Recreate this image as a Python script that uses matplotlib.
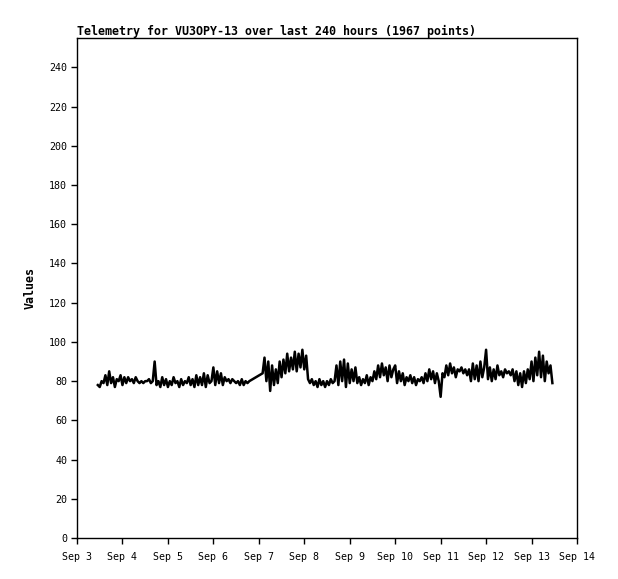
import numpy as np
import matplotlib
matplotlib.use("Agg")
import matplotlib.pyplot as plt
import matplotlib.dates as mdates

# telemetry readings, hourly (hours after Sep 3 00:00)
hours_a = np.arange(11, 92)
values_a = [78, 77, 80, 79, 83, 78, 85, 79, 82, 77, 81,
            80, 83, 78, 82, 79, 82, 80, 81, 79, 82, 80, 79, 80,
            79, 80, 80, 81, 79, 80, 90, 78,
            80, 77, 82, 78, 81, 77, 80, 78, 82, 79, 80, 77, 81, 78,
            80, 79, 82, 78, 81, 77, 83, 78, 82, 78, 84, 77, 83, 79,
            80, 87, 78, 85, 79, 84, 78, 82, 80, 81,
            79, 81, 80, 79, 80, 78, 81, 78, 80, 79, 80]

hours_b = np.arange(98, 252)
values_b = [84, 92, 80, 90, 75, 88, 78, 86, 79, 90, 82,
            91, 84, 94, 85, 92, 86, 95, 85, 94, 87, 96, 86, 93, 81,
            79, 81, 78, 80, 77, 81, 78, 80, 77, 80, 78, 81, 79, 80,
            88, 78, 90, 80, 91, 77, 89, 79, 86,
            80, 87, 79, 82, 78, 81, 79, 83, 78, 82, 80,
            85, 81, 88, 82, 89, 83, 87, 80, 88, 82, 86,
            88, 79, 85, 80, 84, 78, 82, 80, 83,
            79, 82, 78, 81, 80, 82, 79,
            84, 80, 86, 81, 85, 79, 84,
            80, 72, 84,
            82, 88, 83, 89, 84, 87, 82, 86,
            85, 87, 84, 86, 83, 86,
            80, 89, 81, 88, 80, 90, 82, 87, 96, 81,
            87, 80, 86, 81, 88, 83, 85, 82, 86, 84, 85,
            83, 86, 80, 85, 78, 84, 77, 85, 79, 86,
            81, 90, 80, 92, 83, 95, 82, 93, 80, 90, 84, 88, 79]

hours = np.concatenate([hours_a, hours_b])
values = np.concatenate([values_a, values_b])
start = np.datetime64("2023-09-03T00:00")
times = start + hours.astype("timedelta64[h]")

title = "Telemetry for VU3OPY-13 over last 240 hours (1967 points)"

fig = plt.figure(figsize=(6.18, 5.79), dpi=100)
ax = fig.add_axes([77/618, 41/579, 500/618, 500/579])

ax.plot(times, values, color="black", lw=1.8)

ax.set_xlim(np.datetime64("2023-09-03T00:00"), np.datetime64("2023-09-14T00:00"))
ax.set_ylim(0, 255)
ax.set_yticks(np.arange(0, 241, 20))
ax.xaxis.set_major_locator(mdates.DayLocator())
ax.xaxis.set_major_formatter(mdates.DateFormatter("%b %-d"))

for s in ["top", "right", "left", "bottom"]:
    ax.spines[s].set_linewidth(1)
    ax.spines[s].set_color("black")
ax.tick_params(direction="out", length=4, width=1, colors="black",
               labelsize=7.2)
ax.tick_params(axis="x", pad=6)
ax.tick_params(axis="y", pad=3)
for lab in ax.get_xticklabels() + ax.get_yticklabels():
    lab.set_family("DejaVu Sans Mono")

ax.set_ylabel("Values", family="DejaVu Sans Mono", fontweight="bold", fontsize=8.4)
ax.yaxis.set_label_coords(-0.08, 0.5)

fig.text(77/618, 1 - 31/579, title, family="DejaVu Sans Mono",
         fontweight="bold", fontsize=8.4, ha="left", va="center")

fig.savefig("out.png", dpi=100)
